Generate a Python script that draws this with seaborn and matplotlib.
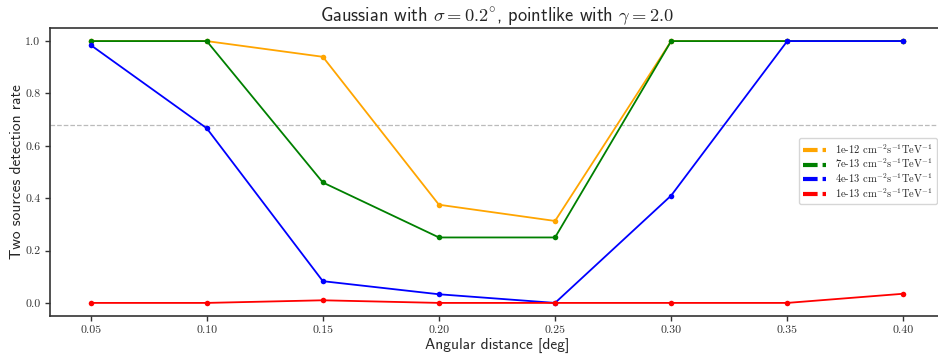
import matplotlib
matplotlib.use("Agg")
import matplotlib.pyplot as plt
import seaborn as sns
import pandas as pd
from matplotlib.lines import Line2D
from matplotlib.ticker import FuncFormatter

sns.set_style("ticks")
plt.rcParams['font.family'] = ['cmss10', 'DejaVu Sans']
plt.rcParams['mathtext.fontset'] = 'cm'
plt.rcParams['axes.unicode_minus'] = False

distances = [0.05, 0.10, 0.15, 0.20, 0.25, 0.30, 0.35, 0.40]
flux_labels = ["1e-12", "7e-13", "4e-13", "1e-13"]
colors = ["orange", "green", "blue", "red"]
rate_1e12 = [1.0, 1.0, 0.94, 0.375, 0.313, 1.0, 1.0, 1.0]
rate_7e13 = [1.0, 1.0, 0.46, 0.25, 0.25, 1.0, 1.0, 1.0]
rate_4e13 = [0.985, 0.667, 0.083, 0.033, 0.0, 0.41, 1.0, 1.0]
rate_1e13 = [0.0, 0.0, 0.01, 0.0, 0.0, 0.0, 0.0, 0.035]
threshold = 0.68

series = [rate_1e12, rate_7e13, rate_4e13, rate_1e13]
rows = []
for lab, vals in zip(flux_labels, series):
    for d, v in zip(distances, vals):
        rows.append({"dist": d, "rate": v, "flux": lab})
df = pd.DataFrame(rows)

fig = plt.figure(figsize=(9.38, 3.59), dpi=100)
ax = fig.add_axes([50/938, 1-316/359, (944-50)/938, (316-28)/359])

sns.lineplot(data=df, x="dist", y="rate", hue="flux", palette=colors,
             hue_order=flux_labels, marker="o", markersize=4, markeredgewidth=0,
             linewidth=1.3, ax=ax, legend=False)
ax.axhline(threshold, color="#bbbbbb", linestyle="--", linewidth=0.9, zorder=0)

ax.set_xticks(distances)
ax.set_yticks([0.0, 0.2, 0.4, 0.6, 0.8, 1.0])
ax.xaxis.set_major_formatter(FuncFormatter(lambda v, p: f"{v:.2f}"))
ax.yaxis.set_major_formatter(FuncFormatter(lambda v, p: f"{v:.1f}"))
ax.tick_params(labelsize=8.5, length=3.5, width=1, colors="#333333")
for t in ax.get_xticklabels() + ax.get_yticklabels():
    t.set_family(["cmr10"])
for s in ax.spines.values():
    s.set_linewidth(1.2)
    s.set_color("#333333")
ax.set_xlim(0.0325, 0.4175)
ax.set_ylim(-0.05, 1.05)

ax.set_xlabel("Angular distance [deg]", fontsize=11.1, labelpad=2)
ax.set_ylabel("Two sources detection rate", fontsize=11.1, labelpad=1)
ax.set_title(r"Gaussian with $\sigma = 0.2^{\circ}$, pointlike with $\gamma = 2.0$",
             fontsize=13.3, pad=5)

handles = [Line2D([0], [0], color=c, linestyle=(0, (3.5, 1.2)), linewidth=3,
                  dash_capstyle="butt") for c in colors]
labels = [lab + r" $\mathrm{cm}^{-2}\mathrm{s}^{-1}\mathrm{TeV}^{-1}$" for lab in flux_labels]
leg = ax.legend(handles, labels, loc="center right", bbox_to_anchor=(937/938, 188/359),
                bbox_transform=fig.transFigure, fontsize=7.6, frameon=True,
                handlelength=2.2, handletextpad=0.8, borderpad=0.4, labelspacing=0.1,
                borderaxespad=0)
leg.get_frame().set_edgecolor("#cccccc")
for t in leg.get_texts():
    t.set_family(["cmr10"])

fig.savefig("out.png", dpi=100)
